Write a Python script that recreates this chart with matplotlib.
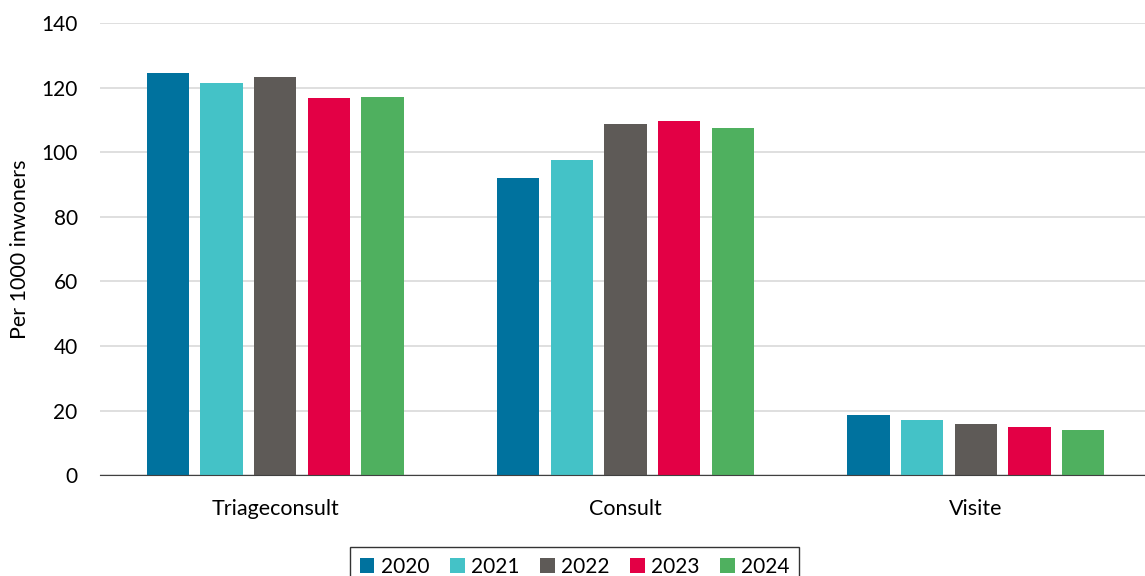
import numpy as np
import matplotlib.pyplot as plt

plt.rcParams['font.family'] = ['Lato', 'DejaVu Sans']

categories = ['Triageconsult', 'Consult', 'Visite']
years = ['2020', '2021', '2022', '2023', '2024']
values = {
    '2020': [124.5, 91.9, 18.7],
    '2021': [121.3, 97.5, 17.1],
    '2022': [123.4, 108.6, 16.0],
    '2023': [116.7, 109.6, 15.0],
    '2024': [117.1, 107.5, 14.0],
}
colors = ['#00729E', '#44C2C7', '#5E5A57', '#E30045', '#4FB05F']

fig = plt.figure(figsize=(11.45, 5.76), dpi=100)
ax = fig.add_axes([0.0873, 0.175, 0.918, 0.785])

x = np.arange(len(categories))
width = 0.121
step = 0.153
for i, yr in enumerate(years):
    ax.bar(x + (i - 2) * step, values[yr], width, color=colors[i], label=yr, zorder=3)

ax.set_xlim(-0.5, 2.5)
ax.set_ylim(0, 140)
ax.set_yticks(np.arange(0, 141, 20))
ax.set_xticks(x)
ax.set_xticklabels(categories, fontsize=15.5)
ax.tick_params(axis='y', labelsize=15, length=0, pad=16)
ax.tick_params(axis='x', length=0, pad=17)
ax.set_ylabel('Per 1000 inwoners', fontsize=15.5, labelpad=8)
ax.yaxis.grid(True, color='#D9D9D9', linewidth=1.2, zorder=0)
for s in ['top', 'right', 'left']:
    ax.spines[s].set_visible(False)
ax.spines['bottom'].set_color('#404040')
ax.spines['bottom'].set_zorder(4)

leg = fig.legend(loc='upper center', bbox_to_anchor=(0.502, 0.068), ncol=5,
                 fontsize=15, frameon=True, fancybox=False, edgecolor='black',
                 handlelength=0.7, handleheight=0.7, handletextpad=0.3,
                 columnspacing=1.0, borderpad=0.45)
leg.get_frame().set_linewidth(1.0)

fig.savefig('out.png', dpi=100)
